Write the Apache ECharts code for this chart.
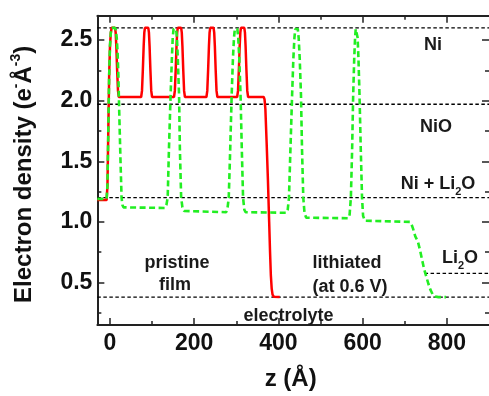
<!DOCTYPE html>
<html>
<head>
<meta charset="utf-8">
<script src="https://cdn.jsdelivr.net/npm/echarts@6/dist/echarts.min.js"></script>
<style>
html,body{margin:0;padding:0;background:#fff;}
#chart{width:489px;height:396px;}
</style>
</head>
<body>
<div id="chart"></div>
<script>
// ---- data ----
const zRange = [-30, 900];
const rhoRange = [0.15, 2.7];
const xMajorTicks = [0, 200, 400, 600, 800];
const xMinorTicks = [100, 300, 500, 700];
const yMajorTicks = [0.5, 1.0, 1.5, 2.0, 2.5];
const yMinorTicks = [0.25, 0.75, 1.25, 1.75, 2.25];

// pristine film (solid red) : [z (Å), electron density]
const pristine = [
  [-30,1.18],[-8,1.18],[-6,1.3],[-4,1.75],[-2,2.2],[0,2.45],[2,2.56],[4,2.6],[12,2.6],[13.5,2.56],[15,2.45],[17,2.25],[19,2.08],[21,2.03],
  [74,2.03],[76,2.08],[78,2.25],[80,2.45],[81.5,2.56],[83,2.6],[91,2.6],[92.5,2.56],[94,2.45],[96,2.25],[98,2.08],[100,2.03],
  [152,2.03],[154,2.08],[156,2.25],[158,2.45],[159.5,2.56],[161,2.6],[169,2.6],[170.5,2.56],[172,2.45],[174,2.25],[176,2.08],[178,2.03],
  [229,2.03],[231,2.08],[233,2.25],[235,2.45],[236.5,2.56],[238,2.6],[246,2.6],[247.5,2.56],[249,2.45],[251,2.25],[253,2.08],[255,2.03],
  [302,2.03],[304,2.08],[306,2.25],[308,2.45],[309.5,2.56],[311,2.6],[319,2.6],[320.5,2.56],[322,2.45],[324,2.25],[326,2.08],[328,2.03],
  [365,2.03],[367,2.01],[369,1.93],[372,1.65],[375,1.35],[378,1.0],[380,0.76],[382,0.56],[384,0.45],[386,0.4],[389,0.383],[393,0.38],[403,0.38]
];

// lithiated at 0.6 V (dashed green)
const lithiated = [
  [-30,1.19],[-8,1.19],[-6,1.3],[-4,1.75],[-2,2.2],[0,2.45],[2,2.56],[4,2.6],[12,2.6],[14,2.58],[16,2.52],[18,2.4],[20,2.2],[22,1.9],[25,1.5],[27.5,1.2],[29.5,1.14],[32,1.12],[36,1.115],
  [131,1.115],[134,1.14],[137,1.2],[140,1.6],[144,2.05],[147,2.35],[149,2.52],[151,2.59],[154,2.6],[157,2.59],[159,2.52],[161,2.35],[164,2.05],[166,1.6],[169,1.2],[172,1.12],[176,1.09],[180,1.08],
  [276,1.08],[279,1.11],[282,1.2],[285.5,1.6],[289,2.05],[292,2.35],[294.5,2.52],[296.5,2.59],[299.5,2.6],[302.5,2.59],[304.5,2.52],[307,2.35],[310,2.05],[313,1.6],[316,1.2],[319,1.1],[322,1.08],[325,1.075],
  [419,1.075],[422,1.1],[425,1.2],[428.5,1.6],[432.5,2.05],[435.5,2.35],[438,2.52],[440,2.59],[443,2.6],[446,2.59],[448,2.52],[450.5,2.35],[453.5,2.05],[456,1.6],[459,1.2],[462,1.07],[466,1.035],[470,1.03],
  [566,1.03],[569,1.06],[572,1.2],[575,1.6],[577.5,2.05],[580,2.35],[582,2.52],[583.5,2.59],[585,2.6],[586.5,2.59],[588,2.52],[590,2.35],[592.5,2.05],[595.5,1.6],[598.5,1.2],[601,1.05],[605,1.01],[609,1.0],
  [712,1.0],[716,0.98],[720,0.94],[725,0.88],[731,0.84],[736,0.77],[741,0.69],[746,0.61],[751,0.55],[756,0.49],[761,0.44],[766,0.405],[772,0.385],[780,0.38],[798,0.38]
];

// reference levels (horizontal dashed lines)
const niLevel = 2.6;
const nioLevel = 1.97;
const niLi2oLevel = 1.2;
const electrolyteLevel = 0.38;
const li2oLevel = 0.575;
const li2oStart = 747;

// ---- chart ----
const FONT = "'Liberation Sans', Arial, sans-serif";
const AX = '#222';
const chart = echarts.init(document.getElementById('chart'), null, {renderer: 'canvas'});

function fullLine(v) { return [[zRange[0], v], [zRange[1], v]]; }

const refStyle = {color: '#000', width: 1.3, type: [3.5, 2.5]};
function refSeries(data) {
  return {type: 'line', data: data, symbol: 'none', silent: true, z: 1,
    lineStyle: refStyle, animation: false};
}

function xAx(pos, ticks, len, showLine, showLabel) {
  return {
    type: 'value', min: zRange[0], max: zRange[1], position: pos,
    axisLine: {show: showLine, onZero: false, lineStyle: {color: AX, width: 2}},
    axisTick: {show: true, inside: true, length: len, customValues: ticks, lineStyle: {color: AX, width: 1.5}},
    axisLabel: showLabel ? {customValues: ticks, fontSize: 23, fontWeight: 'bold', fontFamily: FONT, color: '#111', margin: 7} : {show: false},
    splitLine: {show: false}
  };
}
function yAx(pos, ticks, len, showLine, showLabel) {
  return {
    type: 'value', min: rhoRange[0], max: rhoRange[1], position: pos,
    axisLine: {show: showLine, onZero: false, lineStyle: {color: AX, width: 2}},
    axisTick: {show: true, inside: true, length: len, customValues: ticks, lineStyle: {color: AX, width: 1.5}},
    axisLabel: showLabel ? {customValues: ticks, fontSize: 23, fontWeight: 'bold', fontFamily: FONT, color: '#111', margin: 5,
      formatter: v => v.toFixed(1)} : {show: false},
    splitLine: {show: false}
  };
}

const xMain = xAx('bottom', xMajorTicks, 7, true, true);
xMain.name = 'z (Å)';
xMain.nameLocation = 'middle';
xMain.nameGap = 42;
xMain.nameTextStyle = {fontSize: 24, fontWeight: 'bold', fontFamily: FONT, color: '#111', padding: [0, 5, 0, 0]};

const yMain = yAx('left', yMajorTicks, 7, true, true);
yMain.name = 'Electron density (e{sup|-}Å{sup|-3})';
yMain.nameLocation = 'middle';
yMain.nameGap = 58;
yMain.nameTextStyle = {fontSize: 24, fontWeight: 'bold', fontFamily: FONT, color: '#111', lineHeight: 30,
  padding: [0, 8, 0, 0],
  rich: {sup: {fontSize: 14, fontWeight: 'bold', fontFamily: FONT, color: '#111', lineHeight: 14, verticalAlign: 'top'}}};

const txt = {fontSize: 18, fontWeight: 'bold', fontFamily: FONT, fill: '#1a1a1a', align: 'center', verticalAlign: 'middle'};
const richSub = {
  b: {fontSize: 18, fontWeight: 'bold', fontFamily: FONT, color: '#1a1a1a', lineHeight: 26},
  s: {fontSize: 11, fontWeight: 'bold', fontFamily: FONT, color: '#1a1a1a', lineHeight: 12, verticalAlign: 'bottom'}
};
function label(text, x, y) {
  return {type: 'text', x: x, y: y, silent: true, z: 10, style: Object.assign({text: text}, txt)};
}
function richLabel(text, x, y) {
  return {type: 'text', x: x, y: y, silent: true, z: 10,
    style: Object.assign({text: text, rich: richSub}, txt)};
}

chart.setOption({
  animation: false,
  backgroundColor: '#fff',
  grid: {left: 97.35, top: 15.7, width: 392.2, height: 316, containLabel: false},
  xAxis: [
    xMain,
    xAx('bottom', xMinorTicks, 4, false, false),
    xAx('top', xMajorTicks, 7, true, false),
    xAx('top', xMinorTicks, 4, false, false)
  ],
  yAxis: [
    yMain,
    yAx('left', yMinorTicks, 4, false, false),
    yAx('right', yMajorTicks, 7, false, false),
    yAx('right', yMinorTicks, 4, false, false)
  ],
  series: [
    refSeries(fullLine(niLevel)),
    refSeries(fullLine(nioLevel)),
    refSeries(fullLine(niLi2oLevel)),
    refSeries(fullLine(electrolyteLevel)),
    refSeries([[li2oStart, li2oLevel], [zRange[1], li2oLevel]]),
    {name: 'pristine film', type: 'line', data: pristine, symbol: 'none', z: 3,
      lineStyle: {color: '#ff0000', width: 2.5}},
    {name: 'lithiated (at 0.6 V)', type: 'line', data: lithiated, symbol: 'none', z: 4,
      lineStyle: {color: '#22ee22', width: 2.6, type: [6, 3.5]}}
  ],
  graphic: [
    label('Ni', 433, 45),
    label('NiO', 436, 127),
    richLabel('{b|Ni + Li}{s|2}{b|O}', 438, 184),
    richLabel('{b|Li}{s|2}{b|O}', 460, 258),
    label('pristine', 177, 263),
    label('film', 175, 285),
    label('lithiated', 347, 263),
    label('(at 0.6 V)', 350, 287),
    label('electrolyte', 288.5, 316)
  ]
});
</script>
</body>
</html>
